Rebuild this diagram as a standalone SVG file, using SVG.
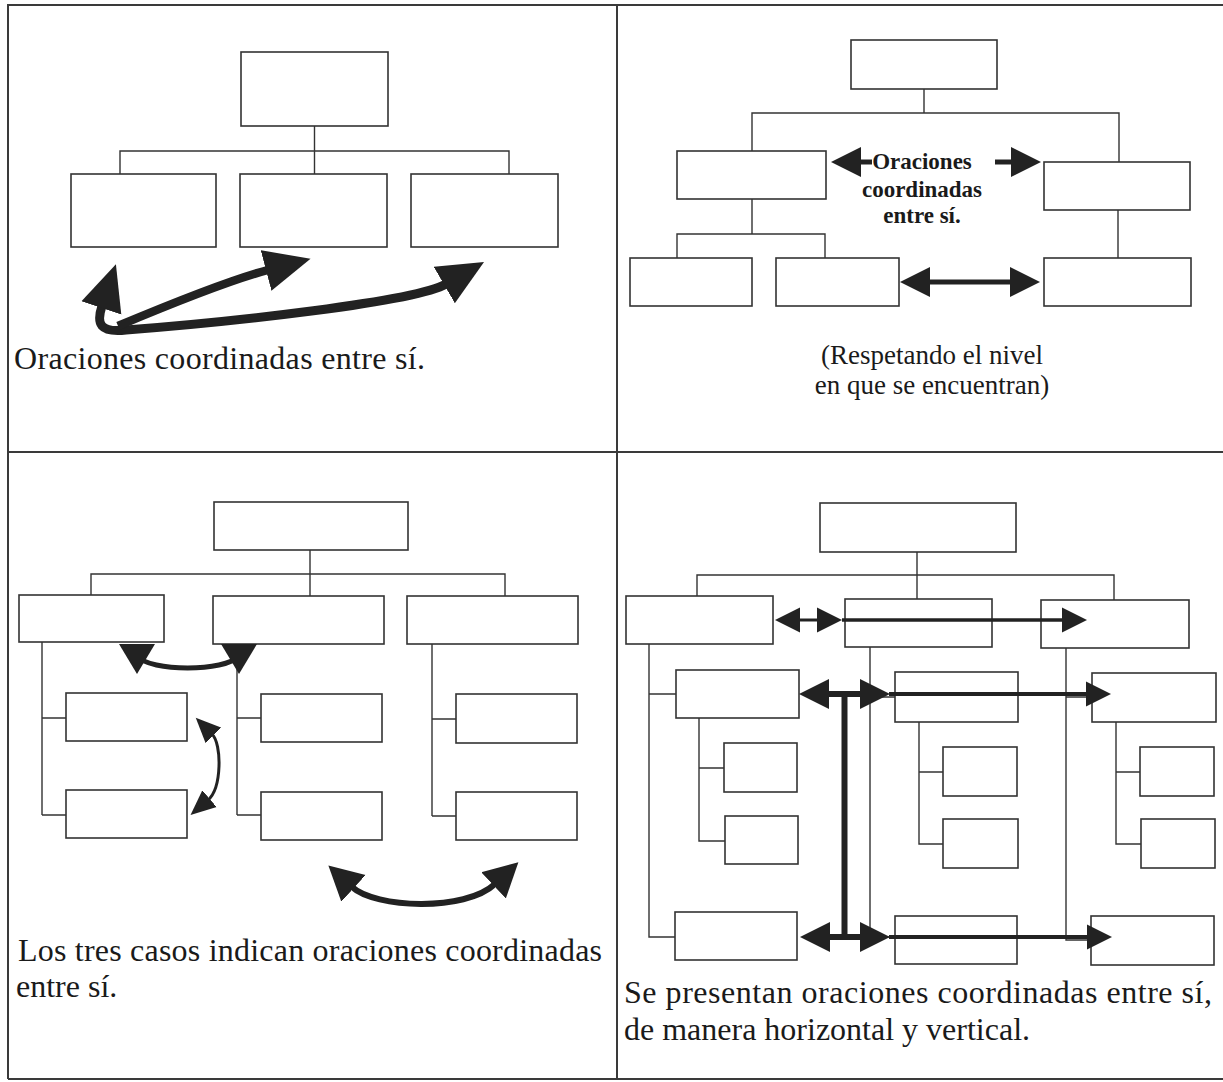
<svg xmlns="http://www.w3.org/2000/svg" width="1223" height="1082" viewBox="0 0 1223 1082">
<style>
.frame{fill:none;stroke:#3a3a3a;stroke-width:2}
.box{fill:#fff;stroke:#333;stroke-width:1.6}
.conn{fill:none;stroke:#333;stroke-width:1.4}
.arr{fill:none;stroke:#222}
.head{fill:#222}
.txt{font-family:"Liberation Serif","Times New Roman",serif;fill:#1a1a1a}
.big{font-size:32px}
.mid{font-size:27px}
.bold{font-size:23px;font-weight:bold}
</style>
<defs>
<marker id="mA" markerUnits="userSpaceOnUse" viewBox="0 -22 48 44" markerWidth="48" markerHeight="44" refX="2" refY="0" orient="auto-start-reverse"><path class="head" d="M0,-21 L46,0 L0,21 Z"/></marker>
<marker id="mB" markerUnits="userSpaceOnUse" viewBox="0 -16 32 32" markerWidth="32" markerHeight="32" refX="2" refY="0" orient="auto-start-reverse"><path class="head" d="M0,-15 L30,0 L0,15 Z"/></marker>
<marker id="mC" markerUnits="userSpaceOnUse" viewBox="0 -12 27 24" markerWidth="27" markerHeight="24" refX="2" refY="0" orient="auto-start-reverse"><path class="head" d="M0,-11 L25,0 L0,11 Z"/></marker>
<marker id="mD" markerUnits="userSpaceOnUse" viewBox="0 -19 36 38" markerWidth="36" markerHeight="38" refX="2" refY="0" orient="auto-start-reverse"><path class="head" d="M0,-18 L34,0 L0,18 Z"/></marker>
<marker id="mE" markerUnits="userSpaceOnUse" viewBox="0 -13 27 26" markerWidth="27" markerHeight="26" refX="2" refY="0" orient="auto-start-reverse"><path class="head" d="M0,-12.5 L25,0 L0,12.5 Z"/></marker>
<marker id="mG" markerUnits="userSpaceOnUse" viewBox="0 -19 32 38" markerWidth="32" markerHeight="38" refX="12" refY="0" orient="90"><path class="head" d="M0,-18 L30,0 L0,18 Z"/></marker>
</defs>

<rect width="1223" height="1082" fill="#fff"/>

<g id="frame">
<path class="frame" d="M8,1079 V5 H1223 M8,1079 H1223 M617,5 V1079 M8,452 H1223"/>
</g>

<!-- ===== Connectors (tree lines) ===== -->
<g id="connectors">
<!-- top-left -->
<path class="conn" d="M314.5,126 V174 M120,174 V151 H509 V174"/>
<!-- top-right -->
<path class="conn" d="M924,89 V113 M752,151 V113 H1119 V162 M752,199 V234 M677,258 V234 H825 V258 M1118,210 V258"/>
<!-- bottom-left -->
<path class="conn" d="M310,550 V596 M91,595 V574 H505 V596"/>
<path class="conn" d="M42,642 V815 M42,718 H66 M42,815 H66"/>
<path class="conn" d="M237,644 V815 M237,718 H261 M237,815 H261"/>
<path class="conn" d="M432,644 V816 M432,719 H456 M432,816 H456"/>
<!-- bottom-right -->
<path class="conn" d="M917,552 V599 M697,596 V575 H1114 V600"/>
<path class="conn" d="M649,644 V937 H675 M649,694 H676"/>
<path class="conn" d="M699,718 V841 H725 M699,768 H724"/>
<path class="conn" d="M870,647 V937 H895 M870,697 H895"/>
<path class="conn" d="M919,722 V844 H943 M919,772 H943"/>
<path class="conn" d="M1066,648 V940 H1091 M1066,697 H1092"/>
<path class="conn" d="M1116,722 V844 H1141 M1116,772 H1140"/>
</g>

<!-- ===== Nodes: top-left ===== -->
<g id="tl-root"><rect class="box" x="241" y="52" width="147" height="74"/></g>
<g id="tl-a"><rect class="box" x="71" y="174" width="145" height="73"/></g>
<g id="tl-b"><rect class="box" x="240" y="174" width="147" height="73"/></g>
<g id="tl-c"><rect class="box" x="411" y="174" width="147" height="73"/></g>

<!-- ===== Nodes: top-right ===== -->
<g id="tr-root"><rect class="box" x="851" y="40" width="146" height="49"/></g>
<g id="tr-l"><rect class="box" x="677" y="151" width="149" height="48"/></g>
<g id="tr-r"><rect class="box" x="1044" y="162" width="146" height="48"/></g>
<g id="tr-la"><rect class="box" x="630" y="258" width="122" height="48"/></g>
<g id="tr-lb"><rect class="box" x="776" y="258" width="123" height="48"/></g>
<g id="tr-ra"><rect class="box" x="1044" y="258" width="147" height="48"/></g>

<!-- ===== Nodes: bottom-left ===== -->
<g id="bl-root"><rect class="box" x="214" y="502" width="194" height="48"/></g>
<g id="bl-l"><rect class="box" x="19" y="595" width="145" height="47"/></g>
<g id="bl-m"><rect class="box" x="213" y="596" width="171" height="48"/></g>
<g id="bl-r"><rect class="box" x="407" y="596" width="171" height="48"/></g>
<g id="bl-l1"><rect class="box" x="66" y="693" width="121" height="48"/></g>
<g id="bl-l2"><rect class="box" x="66" y="790" width="121" height="48"/></g>
<g id="bl-m1"><rect class="box" x="261" y="694" width="121" height="48"/></g>
<g id="bl-m2"><rect class="box" x="261" y="792" width="121" height="48"/></g>
<g id="bl-r1"><rect class="box" x="456" y="694" width="121" height="49"/></g>
<g id="bl-r2"><rect class="box" x="456" y="792" width="121" height="48"/></g>

<!-- ===== Nodes: bottom-right ===== -->
<g id="br-root"><rect class="box" x="820" y="503" width="196" height="49"/></g>
<g id="br-l"><rect class="box" x="626" y="596" width="147" height="48"/></g>
<g id="br-m"><rect class="box" x="845" y="599" width="147" height="48"/></g>
<g id="br-r"><rect class="box" x="1041" y="600" width="148" height="48"/></g>
<g id="br-l1"><rect class="box" x="676" y="670" width="123" height="48"/></g>
<g id="br-l1a"><rect class="box" x="724" y="743" width="73" height="49"/></g>
<g id="br-l1b"><rect class="box" x="725" y="816" width="73" height="48"/></g>
<g id="br-l2"><rect class="box" x="675" y="912" width="122" height="48"/></g>
<g id="br-m1"><rect class="box" x="895" y="672" width="123" height="50"/></g>
<g id="br-m1a"><rect class="box" x="943" y="747" width="74" height="49"/></g>
<g id="br-m1b"><rect class="box" x="943" y="819" width="75" height="49"/></g>
<g id="br-m2"><rect class="box" x="895" y="916" width="122" height="48"/></g>
<g id="br-r1"><rect class="box" x="1092" y="673" width="124" height="49"/></g>
<g id="br-r1a"><rect class="box" x="1140" y="747" width="74" height="49"/></g>
<g id="br-r1b"><rect class="box" x="1141" y="819" width="74" height="49"/></g>
<g id="br-r2"><rect class="box" x="1091" y="916" width="123" height="49"/></g>

<!-- ===== Arrows ===== -->
<g id="arrows">
<!-- top-left -->
<path class="arr" stroke-width="9" d="M102,306 C96,324 100,333 126,330 C230,322 415,302 446,284" marker-start="url(#mA)" marker-end="url(#mA)"/>
<path class="arr" stroke-width="8.5" d="M118,326 C180,300 230,280 268,270" marker-end="url(#mA)"/>
<!-- top-right -->
<path class="arr" stroke-width="5" d="M872,162 H859" marker-end="url(#mB)"/>
<path class="arr" stroke-width="5" d="M995,162 H1013" marker-end="url(#mB)"/>
<path class="arr" stroke-width="5" d="M928,282 H1012" marker-start="url(#mB)" marker-end="url(#mB)"/>
<!-- bottom-left -->
<path class="arr" stroke-width="5" d="M137,656 C150,672 225,672 239,656" marker-start="url(#mG)" marker-end="url(#mG)"/>
<path class="arr" stroke-width="3" d="M212,734 C222,744 222,788 208,800" marker-start="url(#mC)" marker-end="url(#mC)"/>
<path class="arr" stroke-width="6" d="M352,887 C375,908 465,912 495,884" marker-start="url(#mD)" marker-end="url(#mD)"/>
<!-- bottom-right -->
<path class="arr" stroke-width="3" d="M798,620 H819" marker-start="url(#mE)" marker-end="url(#mE)"/>
<path class="arr" stroke-width="3.5" d="M842,620 H1064" marker-end="url(#mE)"/>
<path class="arr" stroke-width="6" d="M827,694 H862" marker-start="url(#mB)" marker-end="url(#mB)"/>
<path class="arr" stroke-width="4" d="M889,694 H1088" marker-end="url(#mE)"/>
<path class="arr" stroke-width="6" d="M828,937 H862" marker-start="url(#mB)" marker-end="url(#mB)"/>
<path class="arr" stroke-width="4" d="M889,937 H1089" marker-end="url(#mE)"/>
<path class="arr" stroke-width="6" d="M844.5,692 V939"/>
</g>

<!-- ===== Texts ===== -->
<g id="labels">
<text class="txt big" x="14" y="369" textLength="411" lengthAdjust="spacing">Oraciones coordinadas entre sí.</text>
<text class="txt bold" text-anchor="middle" x="922" y="169">Oraciones</text>
<text class="txt bold" text-anchor="middle" x="922" y="197">coordinadas</text>
<text class="txt bold" text-anchor="middle" x="922" y="223">entre sí.</text>
<text class="txt mid" text-anchor="middle" x="932" y="364">(Respetando el nivel</text>
<text class="txt mid" text-anchor="middle" x="932" y="394">en que se encuentran)</text>
<text class="txt big" x="18" y="961" textLength="584" lengthAdjust="spacing">Los tres casos indican oraciones coordinadas</text>
<text class="txt big" x="16" y="997">entre sí.</text>
<text class="txt big" x="624" y="1003" textLength="588" lengthAdjust="spacing">Se presentan oraciones coordinadas entre sí,</text>
<text class="txt big" x="624" y="1040">de manera horizontal y vertical.</text>
</g>
</svg>
